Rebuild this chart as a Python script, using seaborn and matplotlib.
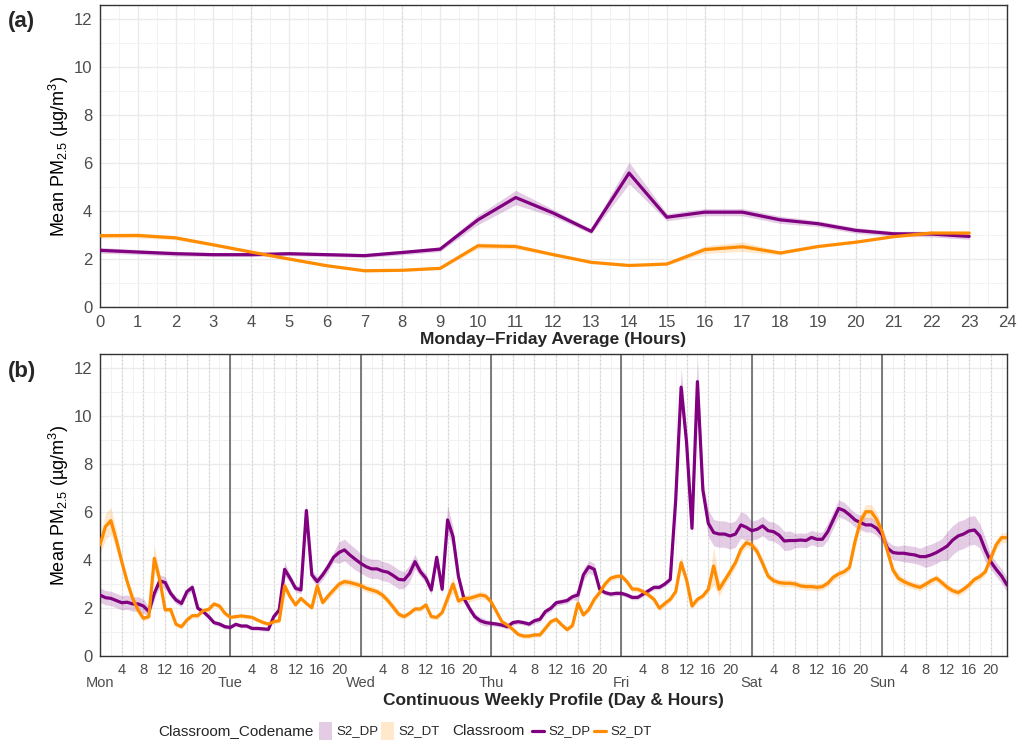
import numpy as np
import pandas as pd
import matplotlib
matplotlib.use("Agg")
import matplotlib.pyplot as plt
import seaborn as sns
from matplotlib.patches import Rectangle
from matplotlib.lines import Line2D

# ---------------- data ----------------
hours_a = list(range(24))
dp_a = [2.36, 2.29, 2.22, 2.18, 2.18, 2.22, 2.18, 2.14, 2.27, 2.41, 3.63, 4.56,
        3.91, 3.15, 5.58, 3.74, 3.95, 3.95, 3.63, 3.47, 3.19, 3.05, 3.04, 2.94]
dt_a = [2.97, 2.98, 2.88, 2.59, 2.29, 2.00, 1.72, 1.51, 1.53, 1.61, 2.55, 2.52,
        2.18, 1.86, 1.73, 1.79, 2.39, 2.51, 2.25, 2.52, 2.70, 2.93, 3.08, 3.08]
dp_a_ci = [0.12, 0.10, 0.10, 0.08, 0.08, 0.08, 0.08, 0.08, 0.10, 0.10, 0.20, 0.30,
           0.15, 0.10, 0.45, 0.15, 0.15, 0.15, 0.15, 0.12, 0.12, 0.10, 0.12, 0.12]
dt_a_ci = [0.10, 0.10, 0.08, 0.06, 0.06, 0.05, 0.05, 0.05, 0.05, 0.05, 0.12, 0.10,
           0.06, 0.05, 0.05, 0.05, 0.15, 0.20, 0.08, 0.05, 0.05, 0.05, 0.08, 0.08]

days = ["Mon", "Tue", "Wed", "Thu", "Fri", "Sat", "Sun"]
hours_b = list(range(168))
dp_b = [
    2.54, 2.43, 2.40, 2.31, 2.22, 2.24, 2.17, 2.17, 2.08, 1.85, 2.61, 3.13, 3.06, 2.61, 2.33, 2.19, 2.68, 2.86, 1.99, 1.85, 1.64, 1.39, 1.33, 1.22,
    1.19, 1.32, 1.25, 1.25, 1.15, 1.15, 1.13, 1.11, 1.64, 1.92, 3.61, 3.24, 2.82, 2.75, 6.06, 3.38, 3.10, 3.38, 3.72, 4.11, 4.31, 4.42, 4.21, 4.03,
    3.86, 3.72, 3.63, 3.63, 3.54, 3.49, 3.35, 3.19, 3.17, 3.44, 3.93, 3.51, 3.24, 2.75, 4.11, 2.78, 5.67, 4.97, 3.31, 2.40, 1.99, 1.64, 1.47, 1.39,
    1.36, 1.33, 1.29, 1.22, 1.39, 1.43, 1.39, 1.33, 1.47, 1.53, 1.85, 1.99, 2.22, 2.26, 2.31, 2.47, 2.54, 3.38, 3.72, 3.61, 2.78, 2.64, 2.58, 2.61,
    2.61, 2.54, 2.44, 2.44, 2.58, 2.72, 2.86, 2.86, 3.00, 3.19, 6.50, 11.2, 8.90, 5.32, 11.43, 6.92, 5.53, 5.14, 5.08, 5.08, 5.00, 5.08, 5.46, 5.36,
    5.22, 5.28, 5.42, 5.22, 5.18, 5.04, 4.79, 4.81, 4.81, 4.83, 4.81, 4.94, 4.86, 4.86, 5.18, 5.67, 6.15, 6.06, 5.88, 5.67, 5.56, 5.46, 5.46, 5.32,
    5.04, 4.49, 4.31, 4.28, 4.28, 4.24, 4.21, 4.14, 4.14, 4.21, 4.31, 4.44, 4.58, 4.83, 5.00, 5.08, 5.21, 5.25, 5.00, 4.42, 3.93, 3.61, 3.33, 2.96,
]
dt_b = [
    4.63, 5.39, 5.64, 4.83, 3.93, 3.10, 2.40, 1.92, 1.57, 1.64, 4.07, 3.17, 1.92, 1.94, 1.32, 1.22, 1.50, 1.68, 1.68, 1.89, 1.94, 2.17, 2.08, 1.78,
    1.61, 1.64, 1.67, 1.64, 1.61, 1.50, 1.40, 1.33, 1.43, 1.47, 2.92, 2.47, 2.13, 2.40, 2.19, 2.01, 2.92, 2.22, 2.50, 2.75, 2.99, 3.10, 3.06, 3.00,
    2.93, 2.82, 2.75, 2.68, 2.54, 2.31, 2.03, 1.74, 1.64, 1.78, 1.96, 1.96, 2.13, 1.64, 1.61, 1.81, 2.40, 3.00, 2.29, 2.40, 2.40, 2.47, 2.54, 2.50,
    2.26, 1.85, 1.43, 1.29, 1.11, 0.90, 0.83, 0.83, 0.88, 0.88, 1.15, 1.43, 1.53, 1.30, 1.10, 1.27, 2.19, 1.71, 1.94, 2.36, 2.64, 3.00, 3.24, 3.31,
    3.33, 3.10, 2.79, 2.78, 2.68, 2.54, 2.36, 1.99, 2.19, 2.36, 2.68, 3.89, 3.17, 2.08, 2.36, 2.50, 2.78, 3.75, 2.78, 3.14, 3.51, 3.89, 4.44, 4.72,
    4.63, 4.35, 3.86, 3.33, 3.14, 3.06, 3.03, 3.03, 3.00, 2.92, 2.89, 2.89, 2.86, 2.89, 3.03, 3.28, 3.42, 3.51, 3.69, 4.76, 5.60, 6.01, 6.01, 5.69,
    5.18, 4.35, 3.58, 3.24, 3.10, 3.00, 2.92, 2.86, 2.99, 3.13, 3.24, 3.06, 2.86, 2.72, 2.64, 2.78, 2.96, 3.19, 3.31, 3.51, 4.07, 4.63, 4.93, 4.93,
]
dp_b_ci = [
    0.30, 0.30, 0.30, 0.30, 0.30, 0.30, 0.30, 0.30, 0.30, 0.20, 0.25, 0.25, 0.25, 0.15, 0.15, 0.15, 0.15, 0.15, 0.10, 0.10, 0.10, 0.10, 0.10, 0.10,
    0.08, 0.08, 0.08, 0.08, 0.08, 0.08, 0.08, 0.08, 0.10, 0.10, 0.30, 0.15, 0.15, 0.15, 0.30, 0.20, 0.20, 0.20, 0.20, 0.20, 0.45, 0.45, 0.45, 0.45,
    0.40, 0.40, 0.40, 0.40, 0.40, 0.40, 0.40, 0.40, 0.35, 0.35, 0.30, 0.20, 0.20, 0.20, 0.20, 0.20, 0.60, 0.40, 0.15, 0.15, 0.15, 0.15, 0.15, 0.15,
    0.10, 0.10, 0.10, 0.10, 0.10, 0.10, 0.10, 0.10, 0.12, 0.12, 0.12, 0.12, 0.12, 0.12, 0.12, 0.12, 0.25, 0.25, 0.25, 0.25, 0.10, 0.10, 0.10, 0.10,
    0.10, 0.10, 0.10, 0.10, 0.10, 0.10, 0.10, 0.10, 0.10, 0.10, 0.20, 0.80, 0.40, 0.30, 1.00, 0.40, 0.55, 0.55, 0.55, 0.55, 0.55, 0.55, 0.55, 0.55,
    0.40, 0.40, 0.40, 0.40, 0.40, 0.40, 0.40, 0.40, 0.30, 0.30, 0.30, 0.30, 0.30, 0.30, 0.35, 0.35, 0.35, 0.35, 0.30, 0.30, 0.30, 0.30, 0.30, 0.30,
    0.30, 0.30, 0.30, 0.30, 0.35, 0.35, 0.35, 0.35, 0.45, 0.45, 0.45, 0.45, 0.60, 0.60, 0.60, 0.60, 0.60, 0.60, 0.50, 0.50, 0.30, 0.30, 0.30, 0.30,
]
dt_b_ci = [
    0.40, 0.55, 0.55, 0.40, 0.20, 0.20, 0.20, 0.20, 0.10, 0.10, 0.50, 0.30, 0.10, 0.10, 0.10, 0.10, 0.10, 0.10, 0.10, 0.10, 0.10, 0.10, 0.10, 0.10,
    0.08, 0.08, 0.08, 0.08, 0.08, 0.08, 0.08, 0.08, 0.08, 0.08, 0.20, 0.08, 0.08, 0.08, 0.08, 0.08, 0.20, 0.08, 0.15, 0.15, 0.15, 0.15, 0.15, 0.15,
    0.15, 0.15, 0.15, 0.15, 0.15, 0.15, 0.15, 0.15, 0.10, 0.10, 0.10, 0.10, 0.10, 0.10, 0.10, 0.10, 0.20, 0.35, 0.15, 0.15, 0.15, 0.15, 0.15, 0.15,
    0.10, 0.10, 0.10, 0.10, 0.10, 0.10, 0.10, 0.10, 0.10, 0.10, 0.10, 0.10, 0.10, 0.10, 0.10, 0.10, 0.20, 0.10, 0.12, 0.12, 0.12, 0.12, 0.12, 0.12,
    0.12, 0.12, 0.12, 0.12, 0.12, 0.12, 0.12, 0.12, 0.12, 0.12, 0.12, 0.30, 0.12, 0.12, 0.12, 0.12, 0.12, 0.80, 0.30, 0.20, 0.20, 0.20, 0.20, 0.20,
    0.20, 0.20, 0.20, 0.15, 0.15, 0.15, 0.15, 0.15, 0.15, 0.15, 0.15, 0.15, 0.15, 0.15, 0.15, 0.15, 0.15, 0.15, 0.15, 0.30, 0.30, 0.30, 0.30, 0.30,
    0.20, 0.20, 0.20, 0.20, 0.15, 0.15, 0.15, 0.15, 0.15, 0.15, 0.15, 0.15, 0.15, 0.15, 0.15, 0.15, 0.15, 0.15, 0.15, 0.15, 0.20, 0.20, 0.20, 0.20,
]

classrooms = ["S2_DP", "S2_DT"]
palette = {"S2_DP": "#800080", "S2_DT": "#FF8C00"}

# ---------------- style ----------------
sns.set_style("white")
plt.rcParams["font.family"] = ["Liberation Sans", "DejaVu Sans"]
plt.rcParams["mathtext.fontset"] = "custom"
plt.rcParams["mathtext.rm"] = "Liberation Sans"
plt.rcParams["mathtext.it"] = "Liberation Sans:italic"
plt.rcParams["mathtext.bf"] = "Liberation Sans:bold"

TICK_GREY = "#4D4D4D"
GRID = "#EBEBEB"
YLAB = "Mean PM$_{2.5}$ (µg/m$^3$)"


def base_style(ax, xmax):
    ax.set_facecolor("white")
    for s in ax.spines.values():
        s.set_color("#333333")
        s.set_linewidth(1.0)
    ax.set_ylim(0, 12.58)
    ax.set_xlim(0, xmax)
    ax.set_yticks(range(0, 13, 2))
    ax.set_yticks(range(1, 13, 2), minor=True)
    ax.grid(which="major", color=GRID, lw=1.0, zorder=0)
    ax.grid(which="minor", color="#F2F2F2", lw=0.7, zorder=0)
    ax.set_axisbelow(True)
    ax.tick_params(axis="both", which="major", colors="#333333", labelcolor=TICK_GREY,
                   labelsize=12, length=3.5, width=0.8, direction="out", pad=2)
    ax.tick_params(axis="both", which="minor", length=0)
    ax.set_ylabel(YLAB, fontsize=13, color="black", labelpad=2)


def draw_series(ax, x, dp, dt, dp_ci, dt_ci):
    for name, vals, ci in [("S2_DP", dp, dp_ci), ("S2_DT", dt, dt_ci)]:
        v = np.array(vals)
        c = np.array(ci)
        ax.fill_between(x, v - c, v + c, color=palette[name], alpha=0.2, lw=0, zorder=2)
    df = pd.DataFrame({
        "hour": list(x) * 2,
        "pm": list(dp) + list(dt),
        "Classroom": ["S2_DP"] * len(dp) + ["S2_DT"] * len(dt),
    })
    sns.lineplot(data=df, x="hour", y="pm", hue="Classroom", palette=palette,
                 lw=2.3, ax=ax, legend=False, zorder=3)


fig = plt.figure(figsize=(10.18, 7.45), dpi=100)
W, H = 1018, 745
ax_a = fig.add_axes([100 / W, 1 - 307 / H, 907 / W, 302 / H])
ax_b = fig.add_axes([100 / W, 1 - 656 / H, 907 / W, 302 / H])

# ---------------- panel (a) ----------------
base_style(ax_a, 24)
ax_a.set_xticks(range(0, 25))
ax_a.set_xticks(np.arange(0.5, 24, 1), minor=True)
for h in [4, 8, 12, 16, 20]:
    ax_a.axvline(h, color="#DADADA", lw=0.8, ls=(0, (2, 2)), zorder=1)
draw_series(ax_a, hours_a, dp_a, dt_a, dp_a_ci, dt_a_ci)
ax_a.set_xlabel("Monday\u2013Friday Average (Hours)", fontsize=12.5, fontweight="bold", labelpad=2)
ax_a.set_ylabel(YLAB, fontsize=13, labelpad=2)

# ---------------- panel (b) ----------------
base_style(ax_b, 167)
tick_pos = list(range(0, 168, 4))
tick_lab = ["\n" + days[h // 24] if h % 24 == 0 else str(h % 24) for h in tick_pos]
ax_b.set_xticks(tick_pos)
ax_b.set_xticklabels(tick_lab, linespacing=0.95)
ax_b.set_xticks(range(2, 168, 4), minor=True)
ax_b.tick_params(axis="x", which="major", labelsize=10.5, pad=1.5)
for h in tick_pos:
    if h % 24 != 0:
        ax_b.axvline(h, color="#C4C4C4", lw=0.7, ls=(0, (1, 3)), zorder=1)
for d in range(1, 7):
    ax_b.axvline(d * 24, color="#5A5A5A", lw=1.1, zorder=1)
draw_series(ax_b, hours_b, dp_b, dt_b, dp_b_ci, dt_b_ci)
ax_b.set_xlabel("Continuous Weekly Profile (Day & Hours)", fontsize=12.5, fontweight="bold", labelpad=2)
ax_b.set_ylabel(YLAB, fontsize=13, labelpad=2)

# panel tags
fig.text(8 / W, 1 - 22 / H, "(a)", fontsize=16, fontweight="bold", va="center")
fig.text(8 / W, 1 - 372 / H, "(b)", fontsize=16, fontweight="bold", va="center")

# ---------------- legend (bottom, titles on the left of their keys) ----------------
ly = 1 - 731 / H
fig.text(158 / W, ly, "Classroom_Codename", fontsize=11, va="center")
fig.text(452 / W, ly, "Classroom", fontsize=11, va="center")
key_x = {"fill": [319, 381], "line": [532, 594]}
for i, c in enumerate(classrooms):
    x0 = key_x["fill"][i]
    fig.add_artist(Rectangle((x0 / W, 5 / H), 13 / W, 18 / H,
                             transform=fig.transFigure, facecolor=palette[c], alpha=0.2,
                             edgecolor="none"))
    fig.text((x0 + 17) / W, ly, c, fontsize=9.5, va="center")
    x1 = key_x["line"][i]
    fig.add_artist(Line2D([x1 / W, (x1 + 12) / W], [ly, ly], transform=fig.transFigure,
                          color=palette[c], lw=2.3))
    fig.text((x1 + 16) / W, ly, c, fontsize=9.5, va="center")

fig.savefig("out.png", dpi=100)
